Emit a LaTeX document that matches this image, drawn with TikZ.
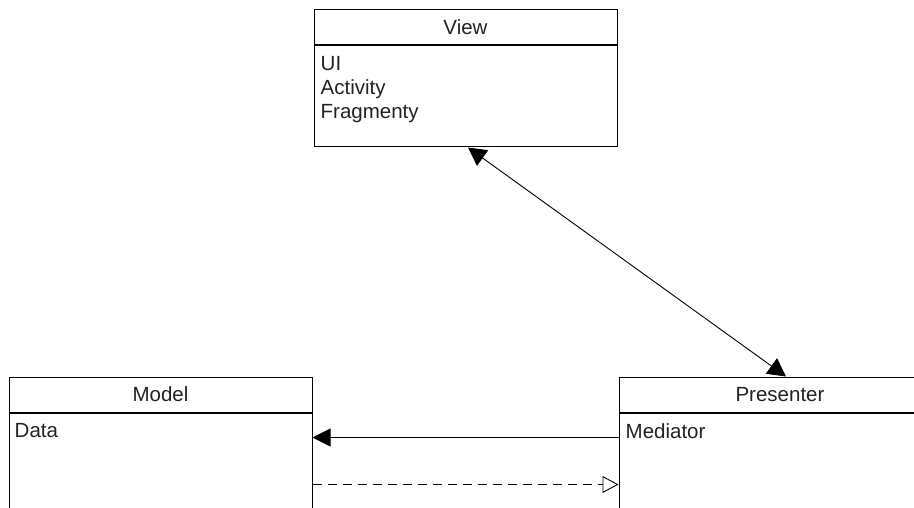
\documentclass[tikz,border=0pt]{standalone}
\usepackage{fontspec}
\setmainfont{Liberation Sans}
\usetikzlibrary{arrows.meta}
\definecolor{txt}{HTML}{222222}
\tikzstyle{every node}=[text=txt,font=\fontsize{20.5}{24}\selectfont]
\tikzstyle{head}=[draw=black,line width=1pt,inner sep=0pt,minimum height=35pt]
\tikzstyle{body}=[draw=black,line width=1pt,inner sep=0pt,minimum height=101pt]
\tikzstyle{items}=[anchor=north west,align=left,inner sep=0pt]

\begin{document}
\begin{tikzpicture}[x=1pt,y=-1pt]
  \clip (0,0) rectangle (914,508);
  \node[head,minimum width=303pt] (view) at (465.5,27.5) {View};
  \node[body,minimum width=303pt,anchor=north] (viewbody) at (view.south) {};
  \node[items] (viewitems) at ([xshift=7pt,yshift=-10.5pt]viewbody.north west) {UI\\Activity\\Fragmenty};
  \node[head,minimum width=303pt] (model) at (160.5,394.5) {Model};
  \node[body,minimum width=303pt,minimum height=148pt,anchor=north] (modelbody) at (model.south) {};
  \node[items] (modelitems) at ([xshift=6pt,yshift=-11pt]modelbody.north west) {Data};
  \node[head,minimum width=322pt] (presenter) at (780,394.5) {Presenter};
  \node[body,minimum width=322pt,minimum height=148pt,anchor=north] (presenterbody) at (presenter.south) {};
  \node[items] (presenteritems) at ([xshift=7pt,yshift=-11pt]presenterbody.north west) {Mediator};
  \draw[line width=0.9pt,{Triangle[length=18pt,width=19pt]}-{Triangle[length=18pt,width=19pt]}]
    ([xshift=2.5pt]viewbody.south) -- ([xshift=6pt]presenter.north);
  \draw[line width=0.9pt,-{Triangle[length=18pt,width=18pt]}]
    ([yshift=-25pt]presenterbody.north west) -- ([yshift=-25pt]modelbody.north east);
  \draw[line width=0.9pt,dashed,dash pattern=on 9pt off 6pt,-{Triangle[open,length=16pt,width=17pt]}]
    ([yshift=-72pt]modelbody.north east) -- ([yshift=-72pt]presenterbody.north west);
\end{tikzpicture}
\end{document}
